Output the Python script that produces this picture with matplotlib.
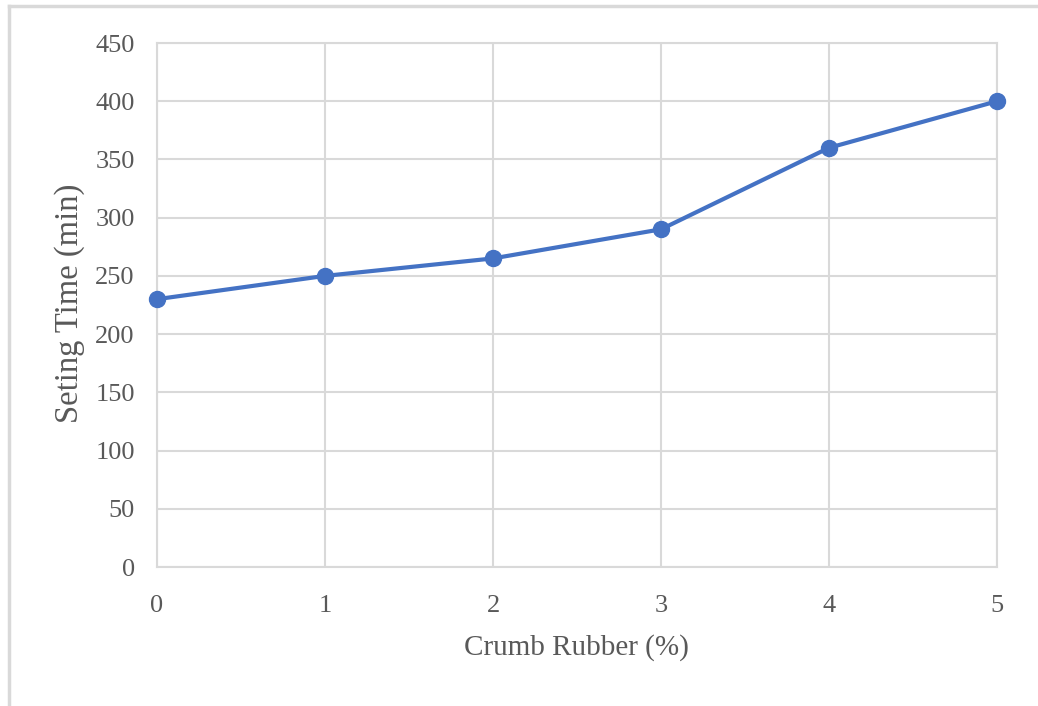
import matplotlib
matplotlib.use("Agg")
import matplotlib.pyplot as plt
from matplotlib.lines import Line2D

# Setting time vs crumb rubber content
crumb_rubber = [0, 1, 2, 3, 4, 5]
setting_time = [230, 250, 265, 290, 360, 400]
y_ticks = [0, 50, 100, 150, 200, 250, 300, 350, 400, 450]

W, H = 1038, 706
fig = plt.figure(figsize=(W / 100, H / 100), dpi=100)
plt.rcParams["font.family"] = ["Liberation Serif", "DejaVu Serif"]

ax = fig.add_axes([157 / W, 1 - 567 / H, (997 - 157) / W, (567 - 43) / H])
ax.plot(crumb_rubber, setting_time, color="#4472C4", linewidth=3,
        marker="o", markersize=11.5, clip_on=False, zorder=5)

ax.set_xlim(0, 5)
ax.set_ylim(0, 450)
ax.set_xticks(crumb_rubber)
ax.set_yticks(y_ticks)
ax.grid(True, color="#d9d9d9", linewidth=1.5)
ax.set_axisbelow(True)
for s in ax.spines.values():
    s.set_color("#d9d9d9")
    s.set_linewidth(1.5)
ax.tick_params(length=0, labelsize=19, labelcolor="#595959")
ax.tick_params(axis="y", pad=16)
ax.tick_params(axis="x", pad=20)

fig.text(576 / W, 1 - 648 / H, "Crumb Rubber (%)", fontsize=21,
         color="#595959", ha="center", va="center")
fig.text(70 / W, 1 - 303 / H, "Seting Time (min)", fontsize=23.5,
         color="#595959", ha="center", va="center", rotation=90)

# outer frame edges
fig.add_artist(Line2D([9 / W, 1], [1 - 6 / H, 1 - 6 / H], color="#d9d9d9",
                      linewidth=2.5, transform=fig.transFigure))
fig.add_artist(Line2D([9 / W, 9 / W], [0, 1 - 6 / H], color="#d9d9d9",
                      linewidth=2.5, transform=fig.transFigure))

fig.savefig("out.png", dpi=100, facecolor="white")
